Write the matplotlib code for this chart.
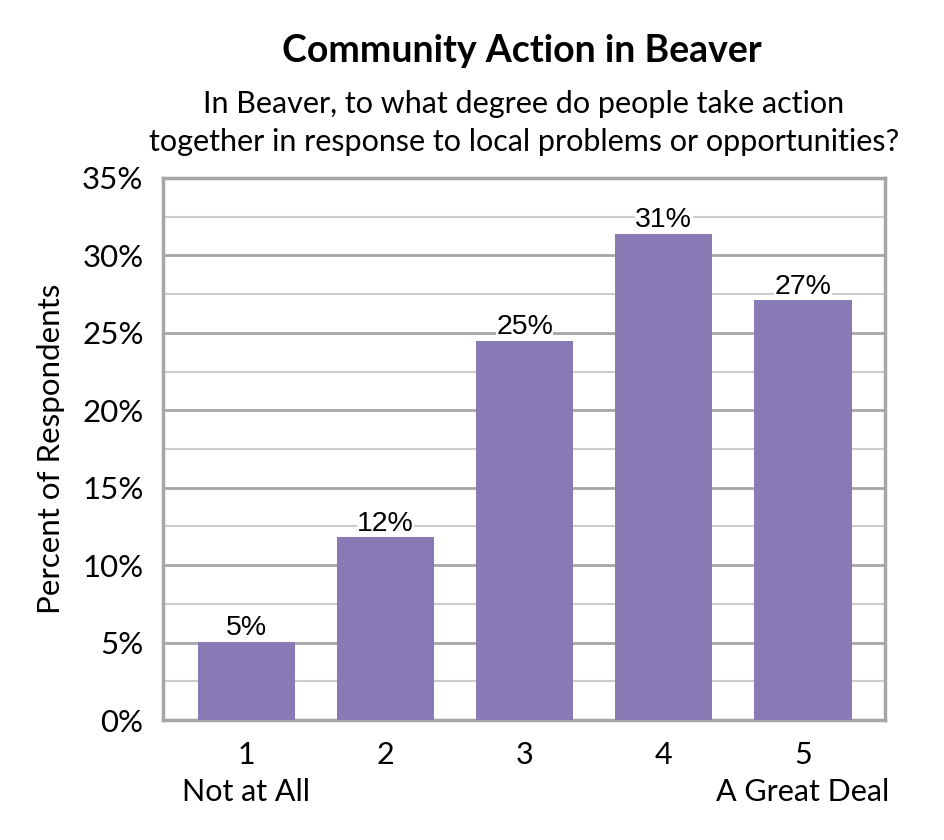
import matplotlib
matplotlib.use("Agg")
import matplotlib.pyplot as plt
from matplotlib.ticker import MultipleLocator, FuncFormatter

categories = ["1\nNot at All", "2", "3", "4", "5\nA Great Deal"]
values = [5.05, 11.8, 24.5, 31.4, 27.1]
value_labels = ["5%", "12%", "25%", "31%", "27%"]
y_ticks = [0, 5, 10, 15, 20, 25, 30, 35]

title = "Community Action in Beaver"
subtitle = "In Beaver, to what degree do people take action\ntogether in response to local problems or opportunities?"
ylabel = "Percent of Respondents"

main_font = ["Lato", "DejaVu Sans"]
label_font = ["Liberation Sans", "DejaVu Sans"]
bar_color = "#877AB5"

fig = plt.figure(figsize=(9.45, 8.4), dpi=100)
ax = fig.add_axes([163/945, 1 - 720/840, (885-163)/945, (720-178)/840])

x = list(range(len(categories)))
ax.bar(x, values, width=0.70, color=bar_color, zorder=3)

ax.set_xlim(-0.6, 4.59)
ax.set_ylim(0, 35)
ax.set_yticks(y_ticks)
ax.yaxis.set_minor_locator(MultipleLocator(2.5))
ax.yaxis.set_major_formatter(FuncFormatter(lambda v, p: f"{int(v)}%"))
ax.grid(axis="y", which="major", color="#A6A6A6", linewidth=2.0, zorder=0)
ax.grid(axis="y", which="minor", color="#CCCCCC", linewidth=1.5, zorder=0)
ax.tick_params(axis="both", which="both", length=0)
ax.tick_params(axis="y", pad=14)
ax.tick_params(axis="x", pad=15)
ax.set_xticks(x)
ax.set_xticklabels(categories, fontsize=22, family=main_font, linespacing=1.38)
for lab in ax.get_yticklabels():
    lab.set_fontsize(22.5)
    lab.set_family(main_font)

for s in ax.spines.values():
    s.set_color("#A6A6A6")
    s.set_linewidth(2.5)

ax.set_ylabel(ylabel, fontsize=22.5, family=main_font, labelpad=12)

for xi, v, t in zip(x, values, value_labels):
    ax.annotate(t, (xi, v), xytext=(0, 0.5), textcoords="offset points",
                ha="center", va="bottom", fontsize=20.5, family=label_font,
                bbox=dict(facecolor="white", edgecolor="none", pad=0.3), zorder=4)

fig.text(522/945, 1 - 51/840, title, ha="center", va="center",
         fontsize=27, fontweight="bold", family=main_font)
fig.text(524/945, 1 - 123/840, subtitle, ha="center", va="center",
         fontsize=22, family=main_font, linespacing=1.42)

fig.savefig("out.png", dpi=100, facecolor="white")
